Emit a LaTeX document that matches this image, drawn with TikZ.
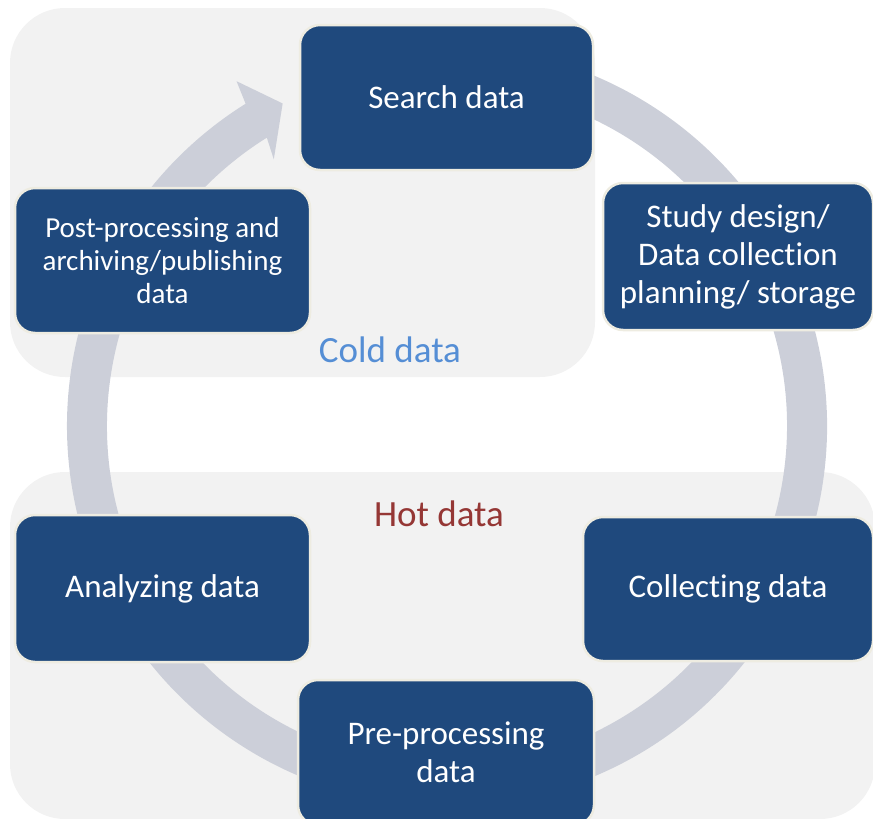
\documentclass[tikz,border=0pt]{standalone}
\usepackage{fontspec}
\setmainfont{Carlito}[Ligatures = NoCommon]

\definecolor{panelgray}{HTML}{F2F2F2}
\definecolor{ringgray}{HTML}{CCCFD9}
\definecolor{boxblue}{HTML}{1F497D}
\definecolor{boxedge}{HTML}{EEECE1}
\definecolor{coldblue}{HTML}{558ED5}
\definecolor{hotred}{HTML}{953735}

\newcommand{\boxsize}{\fontsize{33}{38}\selectfont}

\begin{document}
\begin{tikzpicture}[x = 1pt, y = -1pt,
  panel/.style = {fill = panelgray, rounded corners = 55},
  ring/.style = {fill = ringgray},
  stage/.style = {draw = boxedge, line width = 2.5, fill = boxblue, text = white, rounded corners = 20, align = center, font = \boxsize, inner sep = 0},
  tag/.style = {font = \fontsize{37}{42}\selectfont}]

\useasboundingbox (0,0) rectangle (873,819);
\clip (0,0) rectangle (873,819);

\fill [panel] (10,8) rectangle (595,377);
\fill [panel] (10,472) rectangle (875,819);

\begin{scope}[shift = {(447,426)}]
\fill [ring] (-105:380) arc [start angle = -105, end angle = 238, radius = 380] -- (238.6:404) -- (243:362) -- (237:318) -- (238:340) arc [start angle = 238, end angle = -105, radius = 340] -- cycle;
\end{scope}

\node [stage, minimum width = 293, minimum height = 145] (v1) at (446.5,97.5) {Search data};
\node [stage, minimum width = 270, minimum height = 147] (v2) at (738,256.5) {Study design/\\Data collection\\planning/ storage};
\node [stage, minimum width = 290, minimum height = 144] (v3) at (728,589) {Collecting data};
\node [stage, minimum width = 296, minimum height = 145] (v4) at (446,752.5) {Pre-processing\\data};
\node [stage, minimum width = 295, minimum height = 147] (v5) at (162.5,588.5) {Analyzing data};
\node [stage, minimum width = 295, minimum height = 145, font = \fontsize{29}{33}\selectfont] (v6) at (162.5,260.5) {Post-processing and\\archiving/publishing\\data};

\node [tag, text = coldblue] (c1) at (390,350) {Cold data};
\node [tag, text = hotred] (h1) at (439,514) {Hot data};
\end{tikzpicture}
\end{document}
